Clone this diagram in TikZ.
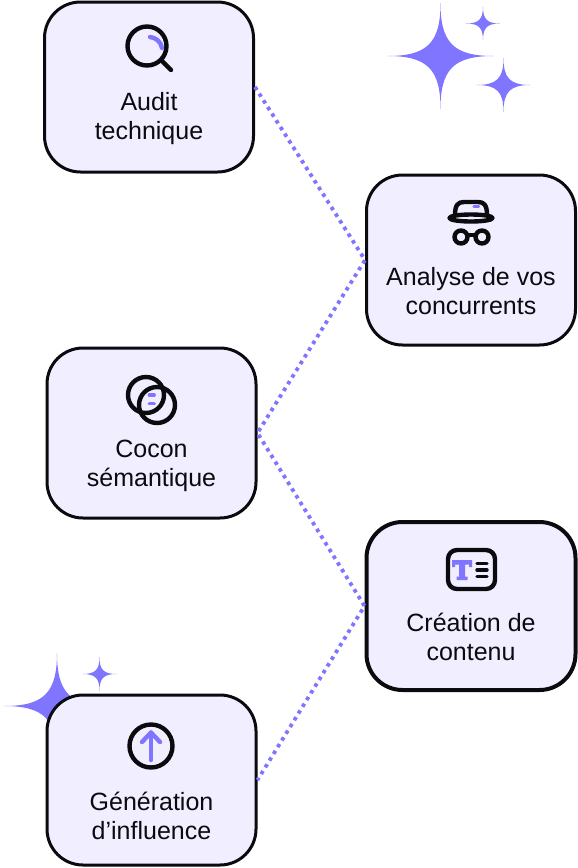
\documentclass[tikz,border=0pt]{standalone}
\usepackage{fontspec}
\setmainfont{Liberation Sans}
\definecolor{pur}{HTML}{8075FF}
\definecolor{boxfill}{HTML}{F1EEFF}
\definecolor{ink}{HTML}{0B0B0F}
\tikzset{
  card/.style={draw=ink,fill=boxfill,line width=3pt,rounded corners=36pt,inner sep=0pt,minimum width=209pt},
  cardtext/.style={inner sep=0pt,align=center,text=ink,font=\fontsize{25pt}{29pt}\selectfont},
  link/.style={draw=pur,line width=3.8pt,dash pattern=on 3.6pt off 4.3pt},
  icon/.style={draw=ink,line width=4.4pt,line cap=round,line join=round},
  accent/.style={draw=pur,line width=4.4pt,line cap=round,line join=round},
  sparkle/.style={fill=pur,draw=none},
}
\newcommand{\sparkleat}[3]{% x, y, radius
  \fill[sparkle,shift={(#1,#2)},scale=#3]
    (1,0) .. controls (0.25,0) and (0,0.25) .. (0,1)
    .. controls (0,0.25) and (-0.25,0) .. (-1,0)
    .. controls (-0.25,0) and (0,-0.25) .. (0,-1)
    .. controls (0,-0.25) and (0.25,0) .. (1,0) -- cycle;}
\begin{document}
\begin{tikzpicture}[x=1pt,y=-1pt]
\useasboundingbox (0,0) rectangle (578,868);
\fill[white] (0,0) rectangle (578,868);
% sparkles
\sparkleat{440.5}{56}{53}
\sparkleat{503.5}{85}{27}
\sparkleat{483}{23.5}{17}
\sparkleat{57}{706}{53}
\sparkleat{99.5}{674}{17}
% cards
\node[card,minimum height=170pt] (audit) at (149,87) {};
\node[card,minimum height=170pt] (analyse) at (471,260) {};
\node[card,minimum height=170pt] (cocon) at (151.5,433) {};
\node[card,minimum height=168pt,line width=4pt] (creation) at (471,606) {};
\node[card,minimum height=170pt] (generation) at (151.5,780) {};
% connectors
\draw[link] (audit.east) -- (analyse.west) -- (cocon.east) -- (creation.west) -- (generation.east);
% labels
\node[cardtext] (t1) at (149,119) {Audit\\technique};
\node[cardtext] (t2) at (471,291) {Analyse de vos\\concurrents};
\node[cardtext] (t3) at (151.5,465.5) {Cocon\\sémantique};
\node[cardtext] (t4) at (471,636.5) {Création de\\contenu};
\node[cardtext] (t5) at (151.5,816) {Génération\\d’influence};
% magnifier
\draw[icon] (147,46) circle (19.5);
\draw[icon] (161,60) -- (171,70);
\draw[accent] (150,37) .. controls (156,37.5) and (161,42) .. (162,48);
% hat
\draw[icon] (455,215) .. controls (455,205) and (458,202) .. (464,202) -- (478,202) .. controls (484,202) and (487,205) .. (487,215);
\draw[icon] (471,218) ellipse (21.5 and 3.5);
\draw[accent,line width=3.5pt] (474,206.7) -- (478.5,206.7);
\draw[icon] (461,237) circle (6.5);
\draw[icon] (482,237) circle (6.5);
\draw[icon] (467.5,235) -- (475.5,235);
% cocon
\draw[icon] (146,395) circle (18);
\draw[icon] (157,405) circle (18);
\draw[accent,line width=3.8pt] (149.5,395) -- (154,395);
\draw[accent,line width=3.8pt] (149.5,403.5) -- (154,403.5);
% text card
\draw[icon,rounded corners=9pt] (448,550) rectangle (495,589);
\fill[pur] (452,560) -- (472,560) -- (472,567) -- (469,567) -- (469,564.5) -- (465,564.5) -- (465,576.5) -- (467.5,576.5) -- (467.5,580) -- (456.5,580) -- (456.5,576.5) -- (459,576.5) -- (459,564.5) -- (455,564.5) -- (455,567) -- (452,567) -- cycle;
\draw[icon,line width=3.4pt] (477,563.3) -- (487,563.3);
\draw[icon,line width=3.4pt] (477,570) -- (487,570);
\draw[icon,line width=3.4pt] (477,576.7) -- (487,576.7);
% up arrow
\draw[icon] (151,746) circle (21.5);
\draw[accent] (151,760) -- (151,732.5);
\draw[accent] (142,742) -- (151,732.5) -- (160,742);
\end{tikzpicture}
\end{document}
